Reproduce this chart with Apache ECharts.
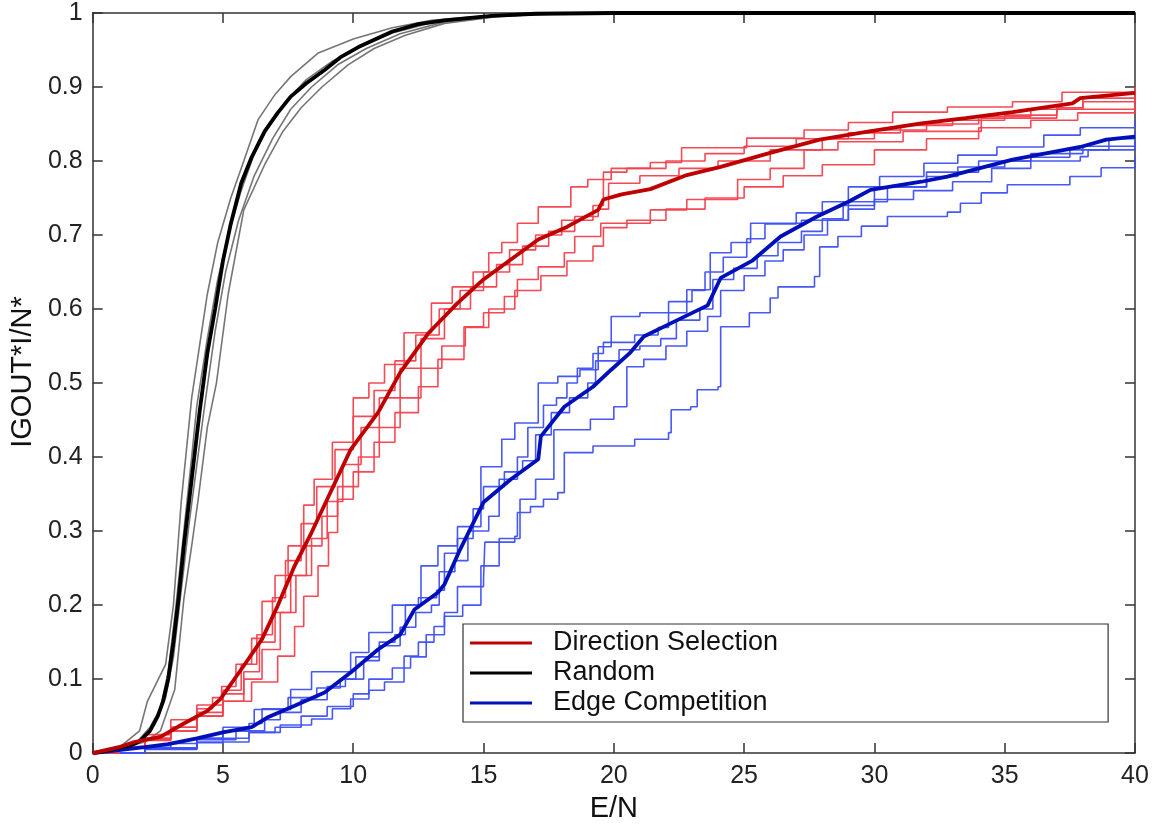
<!DOCTYPE html>
<html>
<head>
<meta charset="utf-8">
<script src="https://cdn.jsdelivr.net/npm/echarts@6/dist/echarts.min.js"></script>
<style>html,body{margin:0;padding:0;background:#fff;}#c{width:1163px;height:828px;}</style>
</head>
<body>
<div id="c"></div>
<script>
// ---------- data ----------
const xTicks = [0, 5, 10, 15, 20, 25, 30, 35, 40];
const yTicks = [0, 0.1, 0.2, 0.3, 0.4, 0.5, 0.6, 0.7, 0.8, 0.9, 1];
const legendNames = ['Direction Selection', 'Random', 'Edge Competition'];

// Random: mean curve + individual runs
const randomMean = [[0,0],[0.5,0.003],[1,0.007],[1.5,0.011],[1.8,0.016],[2.2,0.03],[2.5,0.05],[2.7,0.07],[2.9,0.1],[3.1,0.15],[3.3,0.21],[3.5,0.28],[3.7,0.34],[3.9,0.4],[4.1,0.46],[4.4,0.54],[4.7,0.6],[5.0,0.665],[5.3,0.715],[5.7,0.77],[6.1,0.805],[6.6,0.84],[7.1,0.865],[7.6,0.887],[8.2,0.905],[8.9,0.923],[9.5,0.94],[10.2,0.954],[11.5,0.975],[12.5,0.985],[13.5,0.99],[15.3,0.996],[17,0.999],[20,1],[40,1]];
const randomRun1 = [[0,0],[1,0.007],[1.8,0.03],[2.1,0.07],[2.8,0.12],[3.1,0.2],[3.4,0.34],[3.8,0.48],[4.1,0.55],[4.4,0.62],[4.8,0.69],[5.3,0.75],[5.8,0.8],[6.35,0.856],[7,0.89],[7.6,0.914],[8.66,0.946],[10,0.965],[11.5,0.98],[13,0.99],[15,0.996],[18,1],[40,1]];
const randomRun2 = [[0,0],[1,0.007],[1.7,0.015],[2.2,0.035],[2.6,0.06],[2.9,0.11],[3.2,0.2],[3.5,0.3],[3.8,0.4],[4.0,0.47],[4.4,0.56],[4.8,0.64],[5.2,0.7],[5.7,0.76],[6.2,0.81],[6.8,0.85],[7.4,0.88],[8.2,0.91],[9.2,0.935],[10.3,0.955],[11.5,0.973],[13,0.987],[15,0.995],[18,0.999],[40,1]];
const randomRun3 = [[0,0],[1,0.006],[1.9,0.018],[2.4,0.04],[2.8,0.075],[3.1,0.13],[3.4,0.22],[3.7,0.31],[4.0,0.39],[4.3,0.47],[4.7,0.57],[5.1,0.65],[5.6,0.72],[6.2,0.78],[6.9,0.83],[7.6,0.87],[8.4,0.9],[9.4,0.93],[10.5,0.952],[11.8,0.972],[13.5,0.988],[15.5,0.996],[18,1],[40,1]];
const randomRun4 = [[0,0],[1,0.006],[2,0.015],[2.6,0.03],[3.15,0.086],[3.5,0.208],[3.8,0.28],[4.05,0.343],[4.4,0.44],[4.75,0.5],[5.2,0.62],[5.8,0.734],[6.6,0.795],[7.3,0.84],[8.0,0.872],[8.8,0.9],[9.8,0.93],[10.8,0.952],[12,0.97],[13.5,0.986],[15.5,0.995],[18,1],[40,1]];

// Direction Selection: mean curve + individual runs
const dirMean = [[0,0],[1,0.008],[1.6,0.015],[2.6,0.022],[3.5,0.04],[4.4,0.057],[4.9,0.073],[5.8,0.118],[6.5,0.154],[7.1,0.199],[7.75,0.253],[8.4,0.298],[9.0,0.343],[9.9,0.41],[10.95,0.46],[11.8,0.514],[12.9,0.568],[14.0,0.608],[15.0,0.64],[16.05,0.667],[17.1,0.694],[18.2,0.711],[19.4,0.734],[19.6,0.748],[20.3,0.755],[21.4,0.762],[22.8,0.781],[24.1,0.792],[26.0,0.811],[27.9,0.829],[29.8,0.84],[31.8,0.851],[33.5,0.858],[35.3,0.866],[37.6,0.878],[37.9,0.885],[40,0.892]];
const dirRun1 = [[0,0],[1,0.008],[2,0.02],[3,0.035],[4,0.06],[4.6,0.075],[4.95,0.09],[5.5,0.12],[6.1,0.155],[6.5,0.205],[7.0,0.24],[7.5,0.28],[8.1,0.335],[8.5,0.37],[9.2,0.42],[10.0,0.48],[10.6,0.5],[11.2,0.525],[11.95,0.568],[13.0,0.608],[13.8,0.63],[14.6,0.65],[15.2,0.676],[15.7,0.69],[16.3,0.716],[17.1,0.738],[18.35,0.765],[19.0,0.775],[19.9,0.79],[21.4,0.798],[22.6,0.818],[25.1,0.831],[27.3,0.842],[29,0.852],[30.7,0.866],[32.8,0.873],[35.3,0.88],[37.2,0.893],[40,0.9]];
const dirRun2 = [[0,0],[1,0.009],[2,0.025],[3,0.045],[4,0.065],[5,0.085],[5.7,0.12],[6.3,0.16],[6.9,0.21],[7.4,0.26],[8.0,0.31],[8.6,0.36],[9.3,0.41],[10,0.455],[10.8,0.49],[11.6,0.53],[12.4,0.565],[13.3,0.6],[14.1,0.625],[15.0,0.65],[16.0,0.68],[17.0,0.7],[18.0,0.72],[19.2,0.74],[19.6,0.785],[20.5,0.79],[22,0.8],[23.5,0.81],[25,0.82],[27,0.83],[29,0.838],[31,0.848],[33,0.855],[35,0.862],[37,0.872],[38,0.88],[40,0.885]];
const dirRun3 = [[0,0],[1,0.007],[2,0.018],[3,0.03],[4,0.05],[5,0.07],[5.8,0.1],[6.5,0.14],[7.2,0.19],[7.8,0.24],[8.4,0.29],[9.0,0.34],[9.6,0.39],[10.3,0.44],[11,0.48],[11.8,0.52],[12.6,0.56],[13.5,0.6],[14.5,0.63],[15.5,0.66],[16.5,0.685],[17.5,0.705],[18.5,0.725],[19.4,0.735],[19.8,0.77],[21,0.78],[22.5,0.79],[24,0.8],[26,0.815],[28,0.83],[30,0.842],[32,0.85],[34,0.86],[36,0.87],[38,0.885],[40,0.895]];
const dirRun4 = [[0,0],[1,0.007],[2,0.017],[3,0.03],[4,0.05],[5,0.07],[6.1,0.096],[7.1,0.131],[7.75,0.171],[8.1,0.212],[8.65,0.253],[9.05,0.298],[9.4,0.343],[10,0.38],[10.8,0.42],[11.6,0.46],[12.5,0.495],[13.25,0.532],[14.25,0.576],[15,0.595],[15.8,0.617],[16.3,0.64],[17.1,0.657],[18.1,0.676],[18.5,0.698],[19.5,0.716],[21.4,0.734],[22.8,0.748],[24.75,0.775],[26,0.79],[27.3,0.815],[28.6,0.826],[31.1,0.84],[34.1,0.858],[37,0.87],[40,0.885]];
const dirRun5 = [[0,0],[1,0.008],[2,0.02],[3,0.035],[4,0.055],[5,0.08],[5.8,0.11],[6.4,0.15],[7.0,0.19],[7.6,0.24],[8.2,0.28],[8.8,0.32],[9.4,0.36],[10.2,0.4],[11,0.44],[11.8,0.48],[12.6,0.52],[13.4,0.55],[14.3,0.575],[15.2,0.6],[16.2,0.625],[17.2,0.645],[18.2,0.665],[19.2,0.685],[19.6,0.71],[20.5,0.72],[22,0.735],[23.5,0.75],[25,0.765],[26.5,0.78],[28,0.795],[30,0.815],[32,0.83],[34,0.845],[36,0.855],[37.8,0.865],[40,0.875]];

// Edge Competition: mean curve + individual runs
const edgeMean = [[0,0],[1,0.004],[2,0.008],[2.9,0.012],[4,0.02],[5,0.028],[6.1,0.035],[6.7,0.048],[7.75,0.064],[8.9,0.082],[9.9,0.109],[10.95,0.14],[11.8,0.16],[12.35,0.194],[13.25,0.217],[13.5,0.228],[14.1,0.275],[15.0,0.339],[16.05,0.37],[17.1,0.397],[17.2,0.428],[18.1,0.468],[19.2,0.495],[19.9,0.518],[20.6,0.54],[21.15,0.563],[22.2,0.581],[23.6,0.605],[24.1,0.642],[25.3,0.665],[26.4,0.698],[27.8,0.725],[29.0,0.745],[29.85,0.761],[31.8,0.772],[32.8,0.779],[35.3,0.802],[37.9,0.819],[38.9,0.829],[40,0.833]];
const edgeRun1 = [[0,0],[2,0.006],[4,0.015],[6,0.028],[7.2,0.038],[8.4,0.046],[9.2,0.06],[9.9,0.073],[10.6,0.085],[11.2,0.096],[11.95,0.131],[12.5,0.15],[13.1,0.171],[13.5,0.19],[14.0,0.225],[15.0,0.235],[15.05,0.285],[16.2,0.293],[16.3,0.325],[16.8,0.333],[17.3,0.343],[17.85,0.352],[18.1,0.406],[19.2,0.415],[20.8,0.424],[22.1,0.433],[22.2,0.464],[22.95,0.468],[23.2,0.491],[24.0,0.495],[24.1,0.576],[25.2,0.595],[26.0,0.615],[26.3,0.63],[27.7,0.644],[27.9,0.684],[28.6,0.698],[29.5,0.712],[30.5,0.725],[32.8,0.731],[33.3,0.743],[34.1,0.757],[35.1,0.768],[37.5,0.779],[38.7,0.791],[40,0.806]];
const edgeRun2 = [[0,0],[2,0.008],[3,0.013],[4,0.02],[5,0.035],[6.2,0.059],[7.6,0.086],[8.4,0.11],[9.9,0.136],[10.6,0.163],[11.5,0.2],[12.6,0.253],[13.25,0.28],[14.0,0.306],[14.9,0.387],[15.7,0.424],[16.2,0.446],[17.1,0.5],[17.85,0.509],[18.7,0.518],[19.4,0.549],[19.9,0.59],[21.0,0.595],[22.8,0.626],[23.7,0.676],[24.5,0.69],[25.25,0.716],[27.2,0.72],[29.0,0.745],[30.5,0.765],[32,0.785],[34,0.8],[36,0.81],[38,0.82],[40,0.828]];
const edgeRun3 = [[0,0],[2,0.006],[4,0.018],[5.5,0.03],[6.6,0.045],[7.2,0.055],[8.0,0.072],[9.0,0.09],[9.7,0.1],[10.4,0.125],[11.0,0.145],[11.8,0.17],[12.4,0.19],[13.0,0.2],[13.3,0.245],[13.9,0.26],[14.4,0.3],[15.2,0.32],[15.6,0.37],[16.3,0.4],[16.7,0.44],[17.3,0.47],[17.8,0.48],[18.2,0.5],[18.6,0.52],[19.2,0.54],[19.6,0.555],[20.8,0.565],[21.7,0.575],[22.1,0.61],[23.0,0.625],[23.5,0.65],[24.2,0.67],[25.1,0.695],[25.8,0.715],[27,0.73],[28,0.745],[29,0.765],[30.2,0.779],[31.9,0.797],[33.2,0.808],[34.7,0.819],[36.5,0.835],[37.9,0.845],[40,0.855]];
const edgeRun4 = [[0,0],[2,0.007],[4,0.02],[5,0.03],[6,0.04],[6.5,0.06],[7.5,0.075],[8.6,0.088],[9.5,0.1],[10.1,0.13],[11,0.15],[11.6,0.16],[12.0,0.2],[12.5,0.21],[13.2,0.22],[13.5,0.27],[14.0,0.29],[14.6,0.33],[15.0,0.36],[15.8,0.38],[16.5,0.395],[17.0,0.43],[17.6,0.46],[18.3,0.48],[19.0,0.5],[19.3,0.53],[20.2,0.545],[21.0,0.55],[21.8,0.56],[22.4,0.585],[23.3,0.6],[23.8,0.64],[24.6,0.655],[25.5,0.672],[26.3,0.69],[27.2,0.705],[28.0,0.722],[28.8,0.74],[30.0,0.765],[32,0.779],[33.2,0.792],[35,0.8],[37.9,0.806],[38.2,0.815],[40,0.824]];
const edgeRun5 = [[0,0],[2,0.005],[4,0.014],[5,0.02],[6,0.028],[7,0.035],[8,0.05],[9,0.063],[10,0.08],[10.6,0.1],[11.5,0.115],[12.2,0.13],[12.8,0.16],[13.5,0.185],[14.2,0.2],[14.9,0.253],[15.6,0.29],[16.4,0.343],[17.0,0.37],[17.7,0.437],[19.1,0.451],[20.0,0.468],[20.5,0.522],[21.15,0.532],[22.0,0.55],[22.8,0.57],[23.6,0.59],[24.1,0.625],[25,0.645],[25.8,0.665],[26.5,0.68],[27.3,0.7],[28.2,0.72],[29.0,0.735],[30,0.748],[31.5,0.76],[33,0.772],[34.5,0.79],[36,0.805],[37.5,0.815],[39,0.83],[40,0.84]];

// ---------- chart ----------
const FONT = '"Liberation Sans", Arial, Helvetica, sans-serif';
const AX = '#333333';
function thin(name, data, color, stepped) {
  return { name: name, type: 'line', data: data, step: stepped ? 'end' : false, showSymbol: false, silent: true,
    lineStyle: { width: 1.6, color: color, opacity: 0.95 }, itemStyle: { color: color }, z: 2 };
}
function thick(name, data, color) {
  return { name: name, type: 'line', data: data, showSymbol: false, silent: true,
    lineStyle: { width: 3.8, color: color }, itemStyle: { color: color }, z: 3 };
}
const cEdgeThin = '#3d4ff5', cEdge = '#0010b8';
const cRandThin = '#6e6e6e', cRand = '#000000';
const cDirThin = '#f4404c', cDir = '#c00000';

const series = [
  thin('e1', edgeRun1, cEdgeThin, true), thin('e2', edgeRun2, cEdgeThin, true), thin('e3', edgeRun3, cEdgeThin, true),
  thin('e4', edgeRun4, cEdgeThin, true), thin('e5', edgeRun5, cEdgeThin, true),
  thick(legendNames[2], edgeMean, cEdge),
  thin('r1', randomRun1, cRandThin, false), thin('r2', randomRun2, cRandThin, false), thin('r3', randomRun3, cRandThin, false),
  thin('r4', randomRun4, cRandThin, false),
  thick(legendNames[1], randomMean, cRand),
  thin('d1', dirRun1, cDirThin, true), thin('d2', dirRun2, cDirThin, true), thin('d3', dirRun3, cDirThin, true),
  thin('d4', dirRun4, cDirThin, true), thin('d5', dirRun5, cDirThin, true),
  thick(legendNames[0], dirMean, cDir)
];

const baseAxis = {
  axisLine: { show: true, onZero: false, lineStyle: { color: AX, width: 1.5 } },
  axisTick: { show: true, inside: true, length: 10, lineStyle: { color: AX, width: 1.5 } },
  splitLine: { show: false }
};
const chart = echarts.init(document.getElementById('c'), null, { renderer: 'canvas' });
chart.setOption({
  animation: false,
  backgroundColor: '#ffffff',
  grid: { left: 91, right: 28, top: 13, bottom: 74, containLabel: false },
  legend: {
    data: legendNames.map(n => ({ name: n, icon: 'rect' })),
    orient: 'vertical', left: 463, top: 624,
    itemWidth: 62, itemHeight: 3, itemGap: 2,
    padding: [5, 330, 5, 7],
    borderColor: '#333', borderWidth: 1.2, backgroundColor: '#fff',
    selectedMode: false,
    textStyle: { fontFamily: FONT, fontSize: 27, color: '#111', lineHeight: 28, padding: [0, 0, 0, 16] }
  },
  xAxis: [
    Object.assign({}, baseAxis, {
      type: 'value', min: xTicks[0], max: xTicks[xTicks.length - 1], interval: 5, position: 'bottom',
      axisLabel: { fontFamily: FONT, fontSize: 25, color: '#222', margin: 11 },
      name: 'E/N', nameLocation: 'middle', nameGap: 39,
      nameTextStyle: { fontFamily: FONT, fontSize: 29, color: '#111' }
    }),
    Object.assign({}, baseAxis, {
      type: 'value', min: xTicks[0], max: xTicks[xTicks.length - 1], interval: 5, position: 'top',
      axisLabel: { show: false }
    })
  ],
  yAxis: [
    Object.assign({}, baseAxis, {
      type: 'value', min: yTicks[0], max: yTicks[yTicks.length - 1], interval: 0.1, position: 'left',
      axisLabel: { fontFamily: FONT, fontSize: 25, color: '#222', margin: 10,
        formatter: v => String(Math.round(v * 10) / 10) },
      name: 'IGOUT*I/N*', nameLocation: 'middle', nameGap: 52, nameRotate: 90,
      nameTextStyle: { fontFamily: FONT, fontSize: 29, color: '#111', padding: [0, 0, 0, 22] }
    }),
    Object.assign({}, baseAxis, {
      type: 'value', min: yTicks[0], max: yTicks[yTicks.length - 1], interval: 0.1, position: 'right',
      axisLabel: { show: false }
    })
  ],
  series: series
});
</script>
</body>
</html>
